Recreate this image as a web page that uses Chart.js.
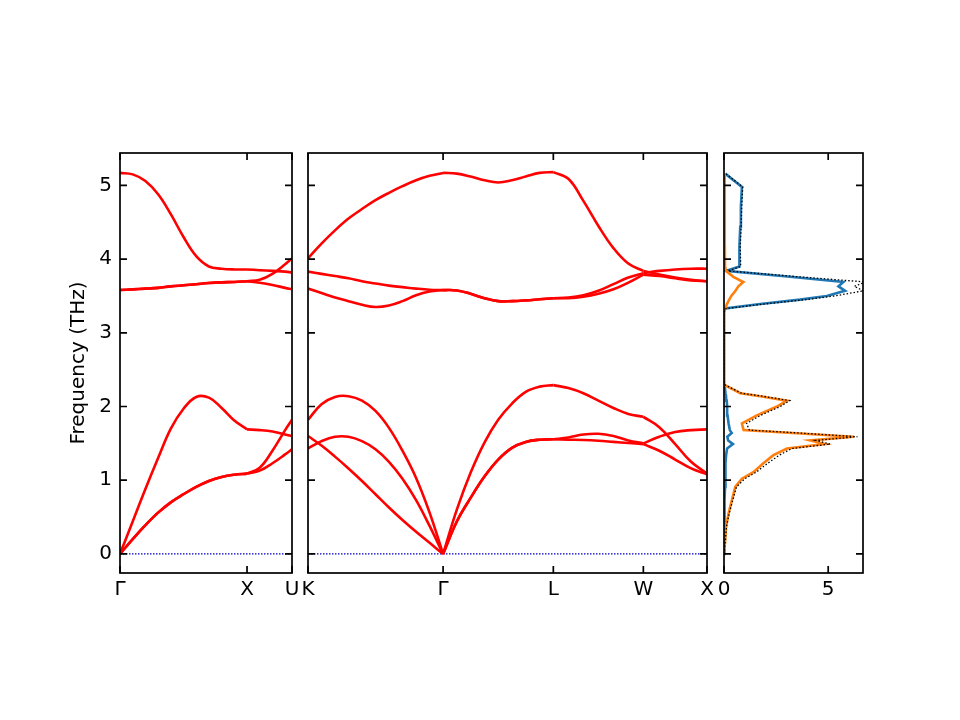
<!DOCTYPE html>
<html>
<head>
<meta charset="utf-8">
<script src="https://cdn.jsdelivr.net/npm/chart.js@4.4.0/dist/chart.umd.min.js"></script>
<style>
  body { margin: 0; background: #fff; }
  #wrap { position: relative; width: 960px; height: 720px; }
  #wrap canvas { position: absolute; left: 0; top: 0; }
</style>
</head>
<body>
<div id="wrap">
  <canvas id="band1" width="960" height="720"></canvas>
  <canvas id="band2" width="960" height="720"></canvas>
  <canvas id="dos" width="960" height="720"></canvas>
</div>
<script>
// frequency axis (THz)
const freqMin = -0.259;
const freqMax = 5.44;
const freqTicks = [0, 1, 2, 3, 4, 5];

// panel 1 : Γ - X - U
const kLabels1 = ['Γ', 'X', 'U'];
const kTicks1 = [0, 1.0, 1.354];
const kPath1 = [0, 0.1, 0.2, 0.3, 0.4, 0.5, 0.6, 0.7, 0.8, 0.9, 1.0, 1.1, 1.2, 1.3, 1.354];
const bandLO1  = [5.17, 5.15, 5.06, 4.88, 4.61, 4.30, 4.04, 3.90, 3.87, 3.86, 3.86, 3.85, 3.84, 3.83, 3.82];
const bandTOa1 = [3.58, 3.59, 3.60, 3.61, 3.63, 3.645, 3.66, 3.675, 3.685, 3.69, 3.70, 3.72, 3.80, 3.93, 4.01];
const bandTOb1 = [3.58, 3.59, 3.60, 3.61, 3.63, 3.645, 3.66, 3.675, 3.685, 3.69, 3.70, 3.68, 3.65, 3.61, 3.59];
const bandLA1  = [0, 0.44, 0.88, 1.30, 1.70, 1.97, 2.13, 2.12, 1.98, 1.81, 1.69, 1.68, 1.66, 1.62, 1.60];
const bandTAa1 = [0, 0.20, 0.39, 0.56, 0.70, 0.81, 0.91, 0.99, 1.045, 1.075, 1.09, 1.17, 1.40, 1.68, 1.82];
const bandTAb1 = [0, 0.20, 0.39, 0.56, 0.70, 0.81, 0.91, 0.99, 1.045, 1.075, 1.09, 1.13, 1.23, 1.35, 1.42];

// panel 2 : K - Γ - L - W - X
const kLabels2 = ['K', 'Γ', 'L', 'W', 'X'];
const kTicks2 = [0, 1.061, 1.927, 2.634, 3.134];
const kPath2 = [0, 0.106, 0.212, 0.318, 0.424, 0.530, 0.636, 0.742, 0.849, 0.955, 1.061,
                1.169, 1.277, 1.386, 1.494, 1.602, 1.710, 1.819, 1.927,
                2.045, 2.163, 2.281, 2.399, 2.516, 2.634,
                2.759, 2.884, 3.009, 3.134];
const bandLO2  = [4.01, 4.21, 4.39, 4.55, 4.68, 4.80, 4.90, 4.99, 5.07, 5.13, 5.17,
                  5.16, 5.12, 5.07, 5.04, 5.07, 5.12, 5.17, 5.18,
                  5.09, 4.79, 4.45, 4.15, 3.94, 3.84,
                  3.79, 3.75, 3.72, 3.70];
const bandTOa2 = [3.83, 3.80, 3.77, 3.74, 3.70, 3.67, 3.64, 3.62, 3.60, 3.585, 3.58,
                  3.575, 3.53, 3.47, 3.43, 3.43, 3.44, 3.455, 3.47,
                  3.48, 3.51, 3.57, 3.66, 3.75, 3.81,
                  3.84, 3.86, 3.87, 3.87];
const bandTOb2 = [3.60, 3.54, 3.48, 3.43, 3.38, 3.35, 3.37, 3.43, 3.51, 3.56, 3.58,
                  3.575, 3.53, 3.47, 3.43, 3.43, 3.44, 3.455, 3.47,
                  3.47, 3.49, 3.53, 3.59, 3.68, 3.79,
                  3.77, 3.74, 3.71, 3.70];
const bandLA2  = [1.82, 2.03, 2.13, 2.14, 2.08, 1.94, 1.71, 1.40, 1.03, 0.56, 0,
                  0.60, 1.10, 1.51, 1.82, 2.04, 2.20, 2.27, 2.29,
                  2.25, 2.18, 2.08, 1.98, 1.90, 1.86,
                  1.72, 1.49, 1.25, 1.09];
const bandTAa2 = [1.43, 1.53, 1.59, 1.59, 1.53, 1.42, 1.25, 1.02, 0.73, 0.38, 0,
                  0.44, 0.76, 1.05, 1.28, 1.44, 1.52, 1.55, 1.555,
                  1.58, 1.62, 1.63, 1.60, 1.54, 1.50,
                  1.59, 1.655, 1.68, 1.69];
const bandTAb2 = [1.60, 1.47, 1.32, 1.16, 0.99, 0.81, 0.63, 0.46, 0.30, 0.15, 0,
                  0.44, 0.76, 1.05, 1.28, 1.44, 1.52, 1.55, 1.555,
                  1.55, 1.545, 1.535, 1.52, 1.505, 1.49,
                  1.40, 1.28, 1.16, 1.08];

// panel 3 : density of states
const dosTicks = [0, 5];
const dosMax = 6.67;
const dosFreq = [0, 0.19, 0.37, 0.55, 0.73, 0.91, 1.02, 1.11, 1.23, 1.34, 1.43, 1.49, 1.54, 1.59, 1.64, 1.68, 1.77, 1.88, 2.00, 2.08,
                 2.14, 2.18, 2.29, 2.35, 3.28, 3.33, 3.39, 3.45, 3.50, 3.57, 3.63, 3.69, 3.76, 3.84, 3.90, 4.17, 4.44, 4.71, 4.98, 5.16];
const dosBlue = [0, 0.01, 0.02, 0.03, 0.04, 0.05, 0.06, 0.07, 0.08, 0.10, 0.15, 0.43, 0.20, 0.16, 0.37, 0.28, 0.22, 0.17, 0.15, 0.13,
                 0.10, 0.07, 0.03, 0, 0, 0.06, 1.74, 3.65, 4.93, 5.81, 5.49, 5.73, 3.17, 0.10, 0.74, 0.74, 0.78, 0.81, 0.86, 0.06];
const dosOrange = [0, 0.06, 0.10, 0.22, 0.38, 0.54, 0.86, 1.41, 1.89, 2.37, 3.02, 4.85, 4.13, 6.21, 3.30, 0.94, 0.86, 1.58, 2.54, 3.02,
                   1.74, 0.78, 0.04, 0, 0, 0.06, 0.14, 0.25, 0.35, 0.55, 0.69, 0.93, 0.45, 0.10, 0.05, 0.04, 0.04, 0.04, 0.04, 0.02];
const dosTotal = [0, 0.07, 0.12, 0.25, 0.42, 0.60, 1.00, 1.55, 2.10, 2.65, 3.25, 5.10, 4.40, 6.40, 3.65, 1.22, 1.08, 1.75, 2.70, 3.15,
                  1.85, 0.85, 0.07, 0, 0, 0.10, 1.90, 3.90, 5.30, 6.70, 6.25, 6.80, 3.60, 0.20, 0.80, 0.78, 0.82, 0.85, 0.90, 0.08];

Chart.defaults.font.family = "'DejaVu Sans', sans-serif";
Chart.defaults.font.size = 20;
Chart.defaults.color = '#000';

// box + inward ticks on all four sides (matplotlib look)
const frameTicks = {
  id: 'frameTicks',
  afterDatasetsDraw(chart, args, opts) {
    const { ctx, chartArea: a, scales } = chart;
    const len = 7;
    ctx.save();
    ctx.strokeStyle = '#000';
    ctx.lineWidth = 1.7;
    ctx.beginPath();
    opts.xTicks.forEach(v => {
      const px = scales.x.getPixelForValue(v);
      ctx.moveTo(px, a.bottom); ctx.lineTo(px, a.bottom - len);
      ctx.moveTo(px, a.top); ctx.lineTo(px, a.top + len);
    });
    opts.yTicks.forEach(v => {
      const py = scales.y.getPixelForValue(v);
      ctx.moveTo(a.left, py); ctx.lineTo(a.left + len, py);
      ctx.moveTo(a.right, py); ctx.lineTo(a.right - len, py);
    });
    ctx.stroke();
    ctx.strokeRect(a.left, a.top, a.right - a.left, a.bottom - a.top);
    ctx.restore();
  }
};

// split each band at the high-symmetry points so the kinks stay sharp
function bandSets(kPath, bands, kTicks) {
  const sets = [];
  bands.forEach(band => {
    for (let s = 0; s < kTicks.length - 1; s++) {
      const pts = [];
      kPath.forEach((k, i) => {
        if (k >= kTicks[s] - 1e-6 && k <= kTicks[s + 1] + 1e-6) pts.push({ x: k, y: band[i] });
      });
      sets.push({
        data: pts, showLine: true, borderColor: '#ff0000', borderWidth: 2.6,
        pointRadius: 0, tension: 0.4
      });
    }
  });
  // dotted zero line, drawn underneath
  sets.push({
    data: [{ x: kTicks[0], y: 0 }, { x: kTicks[kTicks.length - 1], y: 0 }],
    showLine: true, borderColor: '#0000c8', borderWidth: 1.2, borderDash: [1.5, 1.5], pointRadius: 0
  });
  return sets;
}

function kAxis(kTicks, kLabels) {
  return {
    type: 'linear', min: kTicks[0], max: kTicks[kTicks.length - 1],
    grid: { display: false, drawTicks: false }, border: { display: false },
    afterBuildTicks: s => { s.ticks = kTicks.map(v => ({ value: v })); },
    ticks: { padding: 5, maxRotation: 0, autoSkip: false, callback: (v, i) => kLabels[i] },
    afterFit: s => { s.height = 40; }
  };
}

function freqAxis(show) {
  return {
    display: show, min: freqMin, max: freqMax,
    grid: { display: false, drawTicks: false }, border: { display: false },
    afterBuildTicks: s => { s.ticks = freqTicks.map(v => ({ value: v })); },
    ticks: { padding: 8 },
    title: { display: show, text: 'Frequency (THz)', padding: { top: 7, bottom: 0 } },
    afterFit: s => { s.width = show ? 60 : 0; }
  };
}

const baseOpts = {
  responsive: false, animation: false,
  plugins: { legend: { display: false }, tooltip: { enabled: false } }
};

new Chart(document.getElementById('band1'), {
  type: 'scatter',
  data: { datasets: bandSets(kPath1, [bandLO1, bandTOa1, bandTOb1, bandLA1, bandTAa1, bandTAb1], kTicks1) },
  options: {
    ...baseOpts,
    layout: { padding: { left: 60, right: 668, top: 153, bottom: 107 } },
    scales: { x: kAxis(kTicks1, kLabels1), y: freqAxis(true) },
    plugins: { ...baseOpts.plugins, frameTicks: { xTicks: kTicks1, yTicks: freqTicks } }
  },
  plugins: [frameTicks]
});

new Chart(document.getElementById('band2'), {
  type: 'scatter',
  data: { datasets: bandSets(kPath2, [bandLO2, bandTOa2, bandTOb2, bandLA2, bandTAa2, bandTAb2], kTicks2) },
  options: {
    ...baseOpts,
    layout: { padding: { left: 308, right: 253, top: 153, bottom: 107 } },
    scales: { x: kAxis(kTicks2, kLabels2), y: freqAxis(false) },
    plugins: { ...baseOpts.plugins, frameTicks: { xTicks: kTicks2, yTicks: freqTicks } }
  },
  plugins: [frameTicks]
});

// DOS: total first so it sits on top, then orange, then blue
const toPts = arr => arr.map((d, i) => ({ x: d, y: dosFreq[i] }));
new Chart(document.getElementById('dos'), {
  type: 'scatter',
  data: {
    datasets: [
      { data: toPts(dosTotal), showLine: true, borderColor: '#000', borderWidth: 1.3, borderDash: [1.5, 2], pointRadius: 0 },
      { data: toPts(dosOrange), showLine: true, borderColor: '#ff7f0e', borderWidth: 2.6, pointRadius: 0 },
      { data: toPts(dosBlue), showLine: true, borderColor: '#1f77b4', borderWidth: 2.6, pointRadius: 0 }
    ]
  },
  options: {
    ...baseOpts,
    layout: { padding: { left: 724, right: 97, top: 153, bottom: 107 } },
    scales: {
      x: {
        type: 'linear', min: 0, max: dosMax,
        grid: { display: false, drawTicks: false }, border: { display: false },
        afterBuildTicks: s => { s.ticks = dosTicks.map(v => ({ value: v })); },
        ticks: { padding: 5, maxRotation: 0 },
        afterFit: s => { s.height = 40; }
      },
      y: freqAxis(false)
    },
    plugins: { ...baseOpts.plugins, frameTicks: { xTicks: dosTicks, yTicks: freqTicks } }
  },
  plugins: [frameTicks]
});
</script>
</body>
</html>
